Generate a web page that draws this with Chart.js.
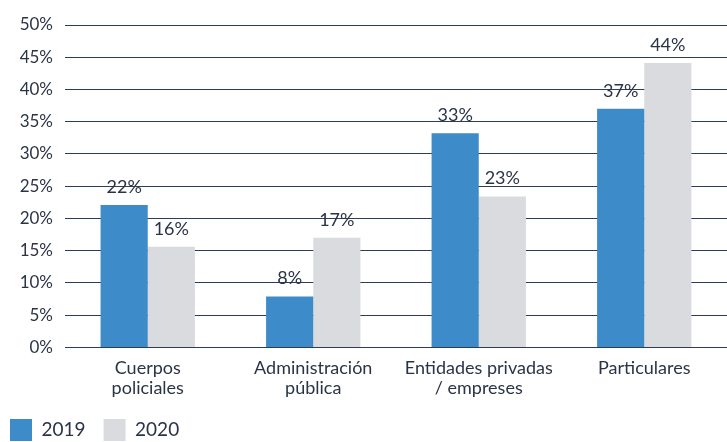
<!DOCTYPE html>
<html><head><meta charset="utf-8">
<script src="https://cdn.jsdelivr.net/npm/chart.js@4/dist/chart.umd.min.js"></script>
<style>html,body{margin:0;padding:0;background:#fff}#wrap{width:727px;height:442px;position:relative}</style>
</head><body><div id="wrap"><canvas id="c"></canvas></div>
<script>
const categories = [["Cuerpos","policiales"],["Administración","pública"],["Entidades privadas","/ empreses"],["Particulares"]];
const series2019 = [22.1, 7.9, 33.2, 37.0];
const series2020 = [15.6, 17.0, 23.4, 44.1];
const yTicks = [0,5,10,15,20,25,30,35,40,45,50];
const textColor = '#2b3446';

const labelPlugin = {
  id:'barLabels',
  afterDatasetsDraw(chart){
    const ctx = chart.ctx;
    ctx.save();
    ctx.font = '18px Lato';
    ctx.fillStyle = textColor;
    ctx.textAlign = 'center';
    ctx.textBaseline = 'bottom';
    chart.data.datasets.forEach((ds,i)=>{
      chart.getDatasetMeta(i).data.forEach((el,j)=>{
        ctx.fillText(Math.round(ds.data[j])+'%', el.x, el.y-9);
      });
    });
    ctx.restore();
  }
};

new Chart(document.getElementById('c'),{
  type:'bar',
  data:{labels:categories,datasets:[
    {label:'2019',data:series2019,backgroundColor:'#3d8bc9',borderWidth:0},
    {label:'2020',data:series2020,backgroundColor:'#d9dbdf',borderWidth:0}
  ]},
  options:{
    responsive:true,maintainAspectRatio:false,animation:false,
    layout:{padding:{top:25,right:0,left:-8,bottom:-9}},
    datasets:{bar:{categoryPercentage:0.57,barPercentage:1}},
    plugins:{
      legend:{position:'bottom',align:'start',labels:{boxWidth:22,boxHeight:22,padding:18,color:textColor,font:{family:'Lato',size:19}}},
      tooltip:{enabled:false}
    },
    scales:{
      x:{grid:{display:false},border:{display:false},ticks:{color:textColor,font:{family:'Lato',size:18,lineHeight:1.1},padding:3,maxRotation:0}},
      y:{min:0,max:50,afterBuildTicks(s){s.ticks=yTicks.map(v=>({value:v}));},
         afterFit(s){s.width=73;},
         grid:{color:'#2e3d55',lineWidth:1,drawTicks:false},border:{display:false},
         ticks:{color:textColor,font:{family:'Lato',size:17},padding:12,callback:v=>v+'%'}}
    }
  },
  plugins:[labelPlugin]
});
</script></body></html>
